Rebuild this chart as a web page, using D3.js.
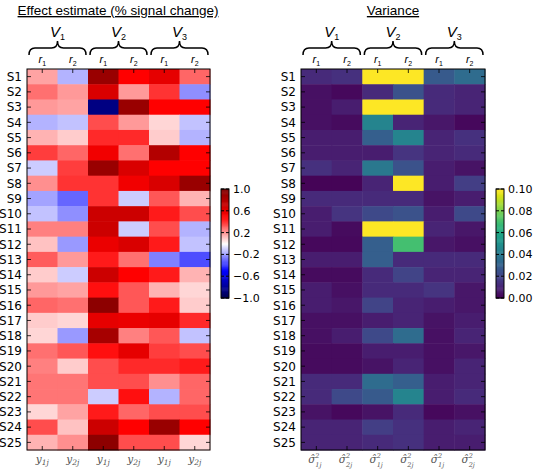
<!DOCTYPE html>
<html><head><meta charset="utf-8">
<script src="https://cdn.jsdelivr.net/npm/d3@7"></script>
<style>body{margin:0;background:#fff;} svg{display:block;}</style>
</head><body>
<script>
const subjects = d3.range(1, 26).map(i => "S" + i);
const colKeys = ["V1r1","V1r2","V2r1","V2r2","V3r1","V3r2"];
const vGroups = ["1","2","3"];
const runLabels = ["1","2","1","2","1","2"];
const effectTicks = [1.0, 0.6, 0.2, -0.2, -0.6, -1.0];
const varTicks = [0.10, 0.08, 0.06, 0.04, 0.02, 0.00];

const effectValues = [
 [0.18,-0.15,0.90,0.50,0.60,0.30],
 [0.28,0.20,0.65,0.20,0.40,-0.22],
 [0.20,0.18,-0.85,0.90,0.50,0.50],
 [-0.15,-0.12,0.35,0.20,0.08,-0.12],
 [0.15,0.10,0.42,0.42,0.10,-0.15],
 [0.38,0.30,0.55,0.28,0.80,0.50],
 [-0.10,0.38,0.90,0.65,0.50,0.50],
 [0.22,0.40,0.40,0.55,0.65,0.90],
 [-0.18,-0.30,0.40,-0.10,0.33,0.15],
 [-0.12,-0.22,0.70,0.70,0.45,0.35],
 [0.25,0.25,0.70,-0.10,0.35,-0.15],
 [0.12,-0.20,0.58,0.65,0.45,-0.12],
 [0.32,0.20,0.45,0.28,-0.25,-0.35],
 [0.10,-0.10,0.70,0.50,0.45,0.15],
 [0.20,0.18,0.47,0.33,0.15,0.08],
 [0.30,0.28,0.95,0.33,0.45,0.10],
 [0.10,0.08,0.60,0.58,0.60,0.42],
 [0.08,-0.20,0.85,0.25,0.33,-0.12],
 [0.28,0.33,0.47,0.60,0.38,0.35],
 [0.25,0.10,0.35,0.42,0.42,0.45],
 [0.27,0.27,0.35,0.35,0.22,0.30],
 [0.27,0.27,-0.10,0.47,-0.15,0.30],
 [0.08,0.18,0.45,0.30,0.35,0.35],
 [0.35,0.12,0.70,0.50,0.90,0.50],
 [0.15,0.22,0.95,0.35,0.35,0.08]
];
const varianceValues = [
 [0.012,0.014,0.100,0.100,0.028,0.035],
 [0.004,0.002,0.012,0.025,0.012,0.010],
 [0.004,0.008,0.100,0.100,0.012,0.010],
 [0.004,0.003,0.045,0.010,0.006,0.002],
 [0.008,0.008,0.030,0.045,0.010,0.014],
 [0.008,0.008,0.008,0.015,0.010,0.012],
 [0.014,0.010,0.040,0.025,0.008,0.005],
 [0.001,0.001,0.010,0.100,0.008,0.018],
 [0.012,0.012,0.012,0.012,0.005,0.008],
 [0.008,0.015,0.022,0.025,0.008,0.022],
 [0.008,0.003,0.100,0.100,0.010,0.006],
 [0.002,0.002,0.030,0.070,0.006,0.004],
 [0.008,0.008,0.030,0.012,0.012,0.012],
 [0.003,0.003,0.012,0.020,0.010,0.010],
 [0.008,0.004,0.012,0.012,0.015,0.006],
 [0.008,0.006,0.020,0.010,0.008,0.006],
 [0.004,0.004,0.008,0.010,0.005,0.008],
 [0.004,0.008,0.022,0.035,0.004,0.010],
 [0.003,0.003,0.008,0.008,0.004,0.006],
 [0.003,0.003,0.005,0.010,0.004,0.010],
 [0.012,0.012,0.035,0.030,0.008,0.010],
 [0.012,0.022,0.028,0.045,0.008,0.012],
 [0.005,0.002,0.005,0.012,0.002,0.004],
 [0.010,0.010,0.018,0.014,0.008,0.010],
 [0.010,0.010,0.012,0.014,0.008,0.008]
];

// seismic colormap
const seismic = d3.scaleLinear()
  .domain([-1,-0.5,0,0.5,1])
  .range(["#00004c","#0000ff","#ffffff","#ff0000","#800000"])
  .clamp(true);
const viridis = d3.scaleSequential(d3.interpolateViridis).domain([0,0.1]).clamp(true);

const W = 533, H = 470;
const svg = d3.select("body").append("svg").attr("width", W).attr("height", H)
  .style("font-family","'DejaVu Sans', sans-serif");

function panel(opts){
  const {x0,x1,y0,y1,data,color,title,titleX,bottomSym,cbX,cbTicks,cbDomain,cbFmt,cbColor} = opts;
  const g = svg.append("g");
  const x = d3.scaleBand().domain(colKeys).range([x0,x1]);
  const y = d3.scaleBand().domain(subjects).range([y0,y1]);
  data.forEach((row,i)=>{
    row.forEach((v,j)=>{
      g.append("rect").attr("x",x(colKeys[j])).attr("y",y(subjects[i]))
        .attr("width",x.bandwidth()+0.5).attr("height",y.bandwidth()+0.5)
        .attr("fill",color(v));
    });
  });
  g.append("rect").attr("x",x0).attr("y",y0).attr("width",x1-x0).attr("height",y1-y0)
    .attr("fill","none").attr("stroke","#000").attr("stroke-width",1);
  const tl = 4;
  colKeys.forEach(k=>{
    const cx = x(k)+x.bandwidth()/2;
    g.append("line").attr("x1",cx).attr("x2",cx).attr("y1",y0).attr("y2",y0+tl).attr("stroke","#000").attr("stroke-width",0.8);
    g.append("line").attr("x1",cx).attr("x2",cx).attr("y1",y1).attr("y2",y1-tl).attr("stroke","#000").attr("stroke-width",0.8);
  });
  subjects.forEach(s=>{
    const cy = y(s)+y.bandwidth()/2;
    g.append("line").attr("x1",x0).attr("x2",x0+tl).attr("y1",cy).attr("y2",cy).attr("stroke","#000").attr("stroke-width",0.8);
    g.append("line").attr("x1",x1).attr("x2",x1-tl).attr("y1",cy).attr("y2",cy).attr("stroke","#000").attr("stroke-width",0.8);
    g.append("text").attr("x",x0-5).attr("y",cy).attr("dy","0.36em").attr("text-anchor","end")
      .attr("font-size",12).text(s);
  });
  colKeys.forEach((k,j)=>{
    const cx = x(k)+x.bandwidth()/2;
    const t = g.append("text").attr("x",cx).attr("y",y0-6).attr("text-anchor","middle")
      .attr("font-family","'Liberation Sans', Arial, sans-serif")
      .attr("font-size",11).attr("font-style","italic");
    t.append("tspan").text("r");
    t.append("tspan").attr("font-size",7).attr("dy",3).attr("font-style","normal").text(runLabels[j]);
  });
  vGroups.forEach((v,gi)=>{
    const a = x(colKeys[gi*2]), b = x(colKeys[gi*2+1])+x.bandwidth();
    const xa = a+2, xb = b-2, xm = (a+b)/2;
    const yb = 55, ym = 48, yt = 41, q = 6;
    const p = `M${xa},${yb} Q${xa},${ym} ${xa+q},${ym} L${xm-q},${ym} Q${xm},${ym} ${xm},${yt} Q${xm},${ym} ${xm+q},${ym} L${xb-q},${ym} Q${xb},${ym} ${xb},${yb}`;
    g.append("path").attr("d",p).attr("fill","none").attr("stroke","#000").attr("stroke-width",1.5);
    const t = g.append("text").attr("x",xm).attr("y",37).attr("text-anchor","middle")
      .attr("font-family","'Liberation Sans', Arial, sans-serif")
      .attr("font-size",15).attr("font-style","italic");
    t.append("tspan").text("V");
    t.append("tspan").attr("font-size",9).attr("dy",3).attr("font-style","normal").text(v);
  });
  colKeys.forEach((k,j)=>{
    const cx = x(k)+x.bandwidth()/2;
    const idx = (j%2)+1;
    const base = y1+13;
    const common = el => el.attr("font-family","'DejaVu Serif', serif").attr("fill","#555").attr("font-style","italic");
    if(bottomSym==="y"){
      const t = common(g.append("text").attr("x",cx).attr("y",base).attr("text-anchor","middle").attr("font-size",10.5));
      t.append("tspan").text("y");
      t.append("tspan").attr("font-size",7.5).attr("dy",2).text(idx+"j");
    } else {
      common(g.append("text").attr("x",cx-1).attr("y",base).attr("text-anchor","end").attr("font-size",10.5).text("σ̂"));
      common(g.append("text").attr("x",cx-1).attr("y",base-5).attr("text-anchor","start").attr("font-size",6.5).text("2"));
      common(g.append("text").attr("x",cx-1).attr("y",base+3.5).attr("text-anchor","start").attr("font-size",6.5).text(idx+"j"));
    }
  });
  g.append("text").attr("x",titleX).attr("y",15).attr("text-anchor","middle")
    .attr("font-family","'Liberation Sans', Arial, sans-serif")
    .attr("font-size",13.5).attr("text-decoration","underline").text(title);
  const cbY0 = 189, cbY1 = 298, cbW = 8;
  const cy = d3.scaleLinear().domain(cbDomain).range([cbY1,cbY0]);
  const n = 100;
  d3.range(n).forEach(i=>{
    const v0 = cbDomain[0] + (cbDomain[1]-cbDomain[0])*i/n;
    const v1 = cbDomain[0] + (cbDomain[1]-cbDomain[0])*(i+1)/n;
    g.append("rect").attr("x",cbX).attr("y",cy(v1)).attr("width",cbW).attr("height",cy(v0)-cy(v1)+0.5)
      .attr("fill",cbColor((v0+v1)/2));
  });
  g.append("rect").attr("x",cbX).attr("y",cbY0).attr("width",cbW).attr("height",cbY1-cbY0)
    .attr("fill","none").attr("stroke","#000").attr("stroke-width",1);
  cbTicks.forEach(tv=>{
    const yy = cy(tv);
    g.append("line").attr("x1",cbX+cbW).attr("x2",cbX+cbW-3).attr("y1",yy).attr("y2",yy).attr("stroke","#000");
    g.append("line").attr("x1",cbX).attr("x2",cbX+3).attr("y1",yy).attr("y2",yy).attr("stroke","#000");
    g.append("text").attr("x",cbX+cbW+4).attr("y",yy).attr("dy","0.36em").attr("font-size",11)
      .text(cbFmt(tv));
  });
}

panel({x0:27,x1:210,y0:69,y1:450,data:effectValues,color:seismic,
  title:"Effect estimate (% signal change)",titleX:118,bottomSym:"y",
  cbX:221,cbTicks:effectTicks,cbDomain:[-1,1],cbFmt:v=>d3.format(".1f")(v).replace("-","\u2212"),cbColor:seismic});
panel({x0:301,x1:485,y0:69,y1:450,data:varianceValues,color:viridis,
  title:"Variance",titleX:393,bottomSym:"s",
  cbX:496,cbTicks:varTicks,cbDomain:[0,0.1],cbFmt:d3.format(".2f"),cbColor:viridis});
</script>
</body></html>
